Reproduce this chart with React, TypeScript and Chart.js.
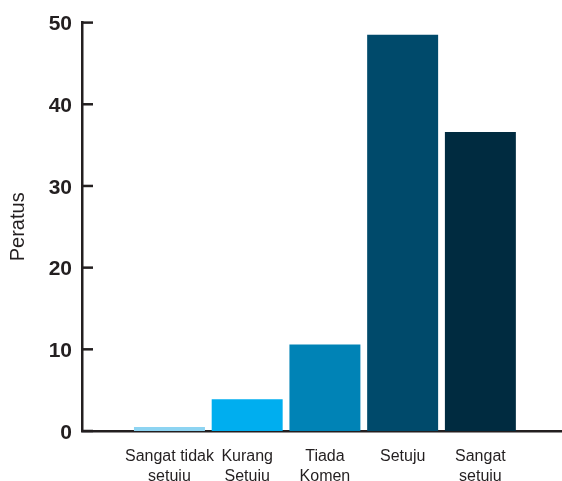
import React, { useEffect, useRef } from "react";
import { Chart, registerables } from "chart.js";

Chart.register(...registerables);

const categories: string[][] = [
  ["Sangat tidak", "setuju"],
  ["Kurang", "Setuju"],
  ["Tiada", "Komen"],
  ["Setuju"],
  ["Sangat", "setuju"],
];
const values: number[] = [0.5, 3.9, 10.6, 48.5, 36.6];
const barColors: string[] = ["#8DD4F2", "#00AEEF", "#0083B6", "#004A6B", "#002B40"];
const yTicks: number[] = [0, 10, 20, 30, 40, 50];
const yTitle = "Peratus";

const AXIS = "#231F20";
const FONT = "'Liberation Sans', Arial, Helvetica, sans-serif";

const innerTicks = {
  id: "innerTicks",
  afterDraw(chart: any) {
    const { ctx, chartArea, scales } = chart;
    const y = scales.y;
    ctx.save();
    ctx.strokeStyle = AXIS;
    ctx.lineWidth = 2.5;
    yTicks.forEach((v) => {
      const py = y.getPixelForValue(v);
      ctx.beginPath();
      ctx.moveTo(chartArea.left, py);
      ctx.lineTo(chartArea.left + 11, py);
      ctx.stroke();
    });
    ctx.restore();
  },
};

export default function App() {
  const ref = useRef<HTMLCanvasElement | null>(null);
  useEffect(() => {
    if (!ref.current) return;
    const chart = new Chart(ref.current, {
      type: "bar",
      data: {
        datasets: [
          {
            data: values.map((v, i) => ({ x: i, y: v })),
            backgroundColor: barColors,
            borderWidth: 0,
            barPercentage: 0.913,
            categoryPercentage: 1,
          },
        ],
      },
      options: {
        responsive: false,
        animation: false,
        layout: { padding: { top: 21, left: 0, right: 0, bottom: 0 } },
        plugins: { legend: { display: false }, tooltip: { enabled: false } },
        scales: {
          x: {
            type: "linear",
            offset: false,
            min: -1.125,
            max: 5.05,
            afterBuildTicks: (scale: any) => {
              scale.ticks = categories.map((_, i) => ({ value: i }));
            },
            afterFit: (scale: any) => {
              scale.height = 50;
            },
            grid: { display: false, drawTicks: false, offset: false },
            border: { display: true, color: AXIS, width: 2.5 },
            ticks: {
              autoSkip: false,
              maxRotation: 0,
              padding: 16,
              color: AXIS,
              font: { family: FONT, size: 16, lineHeight: 1.25 },
              callback: (v: any) => categories[Math.round(Number(v))] ?? "",
            },
          },
          y: {
            min: 0,
            max: 50,
            afterBuildTicks: (scale: any) => {
              scale.ticks = yTicks.map((v) => ({ value: v }));
            },
            afterFit: (scale: any) => {
              scale.width = 82;
            },
            grid: { display: false, drawTicks: false },
            border: { display: true, color: AXIS, width: 2.5 },
            ticks: {
              padding: 10,
              labelOffset: 2,
              color: AXIS,
              font: { family: FONT, size: 21, weight: "bold" },
            },
            title: {
              display: true,
              text: yTitle,
              color: AXIS,
              padding: { top: 6, bottom: 0 },
              font: { family: FONT, size: 20 },
            },
          },
        },
      },
      plugins: [innerTicks],
    } as any);
    return () => chart.destroy();
  }, []);
  return (
    <div style={{ position: "absolute", left: 0, top: 0, width: 562, height: 481, background: "#fff" }}>
      <canvas ref={ref} width={562} height={481} style={{ display: "block" }} />
    </div>
  );
}
